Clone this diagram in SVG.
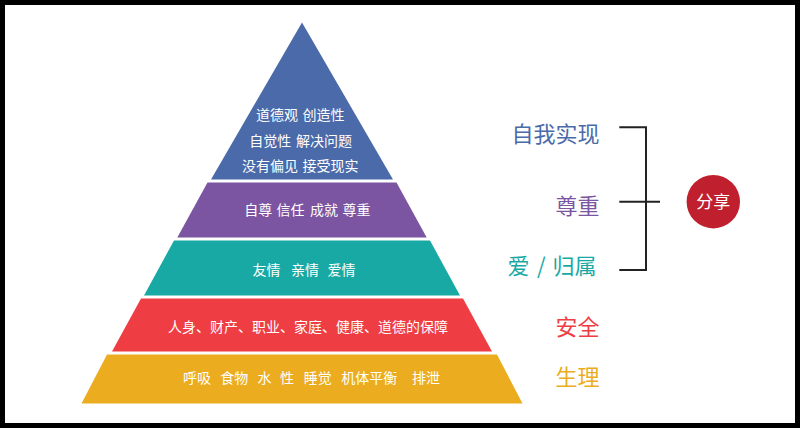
<svg xmlns="http://www.w3.org/2000/svg" width="800" height="428" viewBox="0 0 800 428">
<style>
.t{font-family:"Noto Sans CJK SC","Noto Sans",sans-serif;}
.in{fill:#ffffff;font-size:14px;}
.lab{font-size:22px;text-anchor:end;}
.br{stroke:#222222;stroke-width:2;fill:none;}
</style>
<rect x="0" y="0" width="800" height="428" fill="#000000"/>
<rect x="5" y="5" width="790" height="418" fill="#ffffff"/>

<g id="layer-self-actualization">
<polygon points="302,22.5 393,179.5 211,179.5" fill="#4a6aa9"/>
<text class="t in" y="120"><tspan x="256">道德观</tspan><tspan x="302.6">创造性</tspan></text>
<text class="t in" y="146"><tspan x="249.3">自觉性</tspan><tspan x="296">解决问题</tspan></text>
<text class="t in" y="171"><tspan x="242">没有偏见</tspan><tspan x="302.6">接受现实</tspan></text>
</g>
<g id="layer-esteem">
<polygon points="207.5,182.5 396.5,182.5 426.7,237.5 177.3,237.5" fill="#7b55a2"/>
<text class="t in" y="215"><tspan x="244.3">自尊</tspan><tspan x="276.6">信任</tspan><tspan x="310">成就</tspan><tspan x="342.6">尊重</tspan></text>
</g>
<g id="layer-love">
<polygon points="174,240.5 430,240.5 460,295.5 144,295.5" fill="#18a9a4"/>
<text class="t in" y="275"><tspan x="252.6">友情</tspan><tspan x="291">亲情</tspan><tspan x="327.6">爱情</tspan></text>
</g>
<g id="layer-safety">
<polygon points="141,298.5 463,298.5 492,351.5 112,351.5" fill="#ee3d43"/>
<text class="t in" x="308" y="332" text-anchor="middle">人身、财产、职业、家庭、健康、道德的保障</text>
</g>
<g id="layer-physiological">
<polygon points="107,354.5 497,354.5 522.5,403.5 81.5,403.5" fill="#ebad1f"/>
<text class="t in" y="383"><tspan x="183">呼吸</tspan><tspan x="220.3">食物</tspan><tspan x="257.5">水</tspan><tspan x="280">性</tspan><tspan x="303.8">睡觉</tspan><tspan x="341.3">机体平衡</tspan><tspan x="412">排泄</tspan></text>
</g>

<g id="label-self-actualization"><text class="t lab" x="599.5" y="141.5" fill="#4a6aa9">自我实现</text></g>
<g id="label-esteem"><text class="t lab" x="599.5" y="214" fill="#7b55a2">尊重</text></g>
<g id="label-love"><text class="t" font-size="22" y="273.5" fill="#18a9a4"><tspan x="507.5">爱</tspan><tspan x="537">/</tspan><tspan x="552.5">归属</tspan></text></g>
<g id="label-safety"><text class="t lab" x="599.5" y="334.5" fill="#ee3d43">安全</text></g>
<g id="label-physiological"><text class="t lab" x="599.5" y="384.5" fill="#ebad1f">生理</text></g>

<g id="connectors">
<path class="br" d="M619.3,127.3 H646 V270 H619.3"/>
<path class="br" d="M619.3,201.7 H660"/>
</g>

<g id="share">
<circle cx="713.3" cy="201.7" r="26.7" fill="#c01f2e"/>
<text class="t" x="713.3" y="208" fill="#ffffff" font-size="17" text-anchor="middle">分享</text>
</g>
</svg>
